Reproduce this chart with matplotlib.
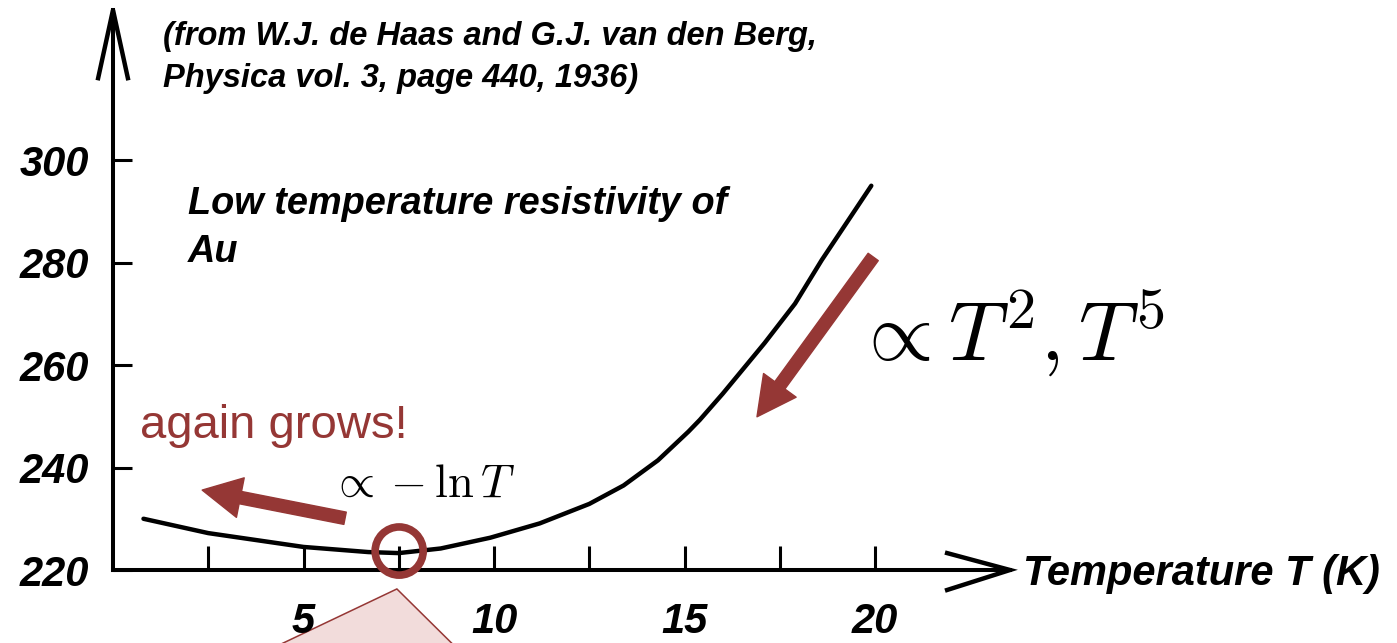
import matplotlib
matplotlib.use('Agg')
import matplotlib.pyplot as plt
from matplotlib.patches import FancyArrowPatch, Ellipse, Polygon, ArrowStyle

# resistivity of gold at low temperature (de Haas & van den Berg, 1936)
temperature = [0.8, 2.5, 5.0, 6.7, 7.5, 8.6, 9.9, 11.2, 12.5, 13.4, 14.3,
               15.1, 15.4, 16.0, 16.5, 17.1, 17.9, 18.6, 19.3, 19.9]
resistivity = [230.0, 227.2, 224.5, 223.5, 223.3, 224.2, 226.3, 229.1, 232.9,
               236.5, 241.4, 247.0, 249.3, 254.4, 258.9, 264.3, 272.0, 280.5,
               288.3, 295.0]

x_major = [5, 10, 15, 20]
x_minor = [2.5, 7.5, 12.5, 17.5]
y_ticks = [220, 240, 260, 280, 300]

DARK_RED = '#953735'
PINK = '#f2dcdb'

plt.rcParams['mathtext.fontset'] = 'cm'
label_font = dict(family='Liberation Sans', weight='bold', style='italic')

fig = plt.figure(figsize=(13.97, 6.43), dpi=100)
ax = fig.add_axes([113 / 1397, 73 / 643, 897 / 1397, 560 / 643])
x_max, y_max = 23.54, 329.3
ax.set_xlim(0, x_max)
ax.set_ylim(220, y_max)

for side in ['top', 'right']:
    ax.spines[side].set_visible(False)
for side in ['left', 'bottom']:
    ax.spines[side].set_linewidth(2.9)

ax.set_xticks(x_major)
ax.set_xticks(x_minor, minor=True)
ax.set_yticks(y_ticks)
ax.tick_params(axis='x', which='both', direction='in', length=17, width=2.2, pad=23)
ax.tick_params(axis='y', direction='in', length=14, width=2.2, pad=17)
for lbl in ax.get_xticklabels() + ax.get_yticklabels():
    lbl.set_fontproperties(dict(label_font, size=30))

# open arrowheads at the ends of both axes
ax.plot([-0.39, 0, 0.39], [316.0, y_max, 316.0], color='black', lw=3.2,
        clip_on=False, solid_joinstyle='miter')
ax.plot([21.89, x_max, 21.89], [223.3, 220, 216.1], color='black', lw=3.2,
        clip_on=False, solid_joinstyle='miter')

ax.plot(temperature, resistivity, color='black', lw=3.2,
        solid_joinstyle='round', solid_capstyle='round')

ax.text(x_max + 0.34, 217.1, 'Temperature T (K)', fontsize=30, va='baseline', **label_font)
ax.text(1.31, 322.4, '(from W.J. de Haas and G.J. van den Berg,', fontsize=23.5,
        va='baseline', **label_font)
ax.text(1.31, 314.2, 'Physica vol. 3, page 440, 1936)', fontsize=23.5,
        va='baseline', **label_font)
ax.text(1.97, 289.5, 'Low temperature resistivity of', fontsize=27.3,
        va='baseline', **label_font)
ax.text(1.97, 280.1, 'Au', fontsize=27.3, va='baseline', **label_font)

# annotations
ax.text(0.71, 245.8, 'again grows!', fontsize=34, color=DARK_RED,
        family='Liberation Sans', va='baseline')
ax.text(5.70, 234.2, r'$\propto -\ln T$', fontsize=33.5, va='baseline')
ax.text(19.45, 261.0, r'$\propto T^2, T^5$', fontsize=60, va='baseline')

style = ArrowStyle.Simple(head_length=28, head_width=29, tail_width=9)
for start, end in [((6.09, 230.1), (2.34, 235.6)), ((19.95, 281.1), (16.9, 249.9))]:
    ax.add_patch(FancyArrowPatch(start, end, arrowstyle=style, mutation_scale=1,
                                 shrinkA=0, shrinkB=0, color=DARK_RED,
                                 clip_on=False, zorder=4))

ax.add_patch(Ellipse((7.51, 223.7), 1.26, 9.4, fill=False, edgecolor=DARK_RED,
                     lw=5.5, clip_on=False, zorder=3))
ax.add_patch(Polygon([(7.45, 216.3), (3.52, 202.4), (9.34, 202.4)], closed=True,
                     facecolor=PINK, edgecolor=DARK_RED, lw=1.1,
                     clip_on=False, zorder=1))

fig.savefig('out.png', dpi=100)
